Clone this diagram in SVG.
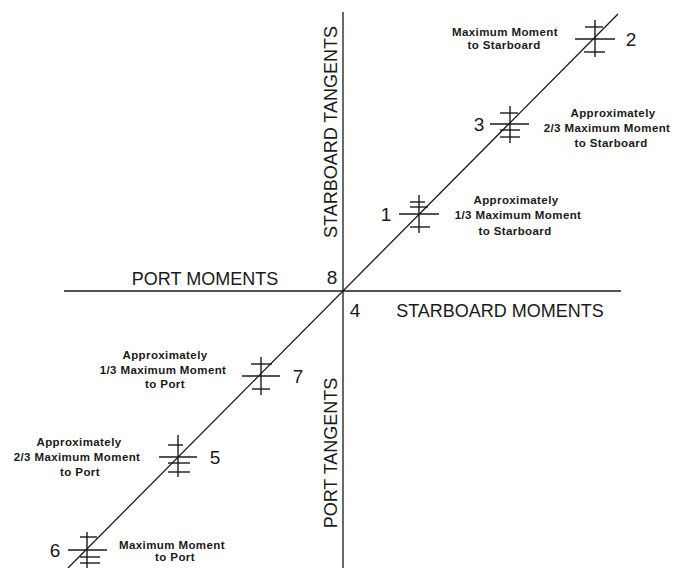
<svg xmlns="http://www.w3.org/2000/svg" width="676" height="568" viewBox="0 0 676 568">
<style>
.ln{stroke:#1a1a1a;stroke-width:1.3;fill:none}
.mk line{stroke:#1a1a1a;stroke-width:1.4}
.ax{font-family:"Liberation Sans",Arial,sans-serif;font-size:18px;fill:#1a1a1a}
.num{font-family:"Liberation Sans",Arial,sans-serif;font-size:19px;fill:#1a1a1a}
.lb{font-family:"Liberation Sans",Arial,sans-serif;font-size:11.5px;font-weight:bold;letter-spacing:0.4px;fill:#1a1a1a;text-anchor:middle}
</style>
<rect width="676" height="568" fill="#fff"/>
<g id="connectors">
<line class="ln" x1="343" y1="12" x2="343" y2="568"/>
<line class="ln" x1="64" y1="291" x2="621" y2="291"/>
<line class="ln" x1="68" y1="568" x2="618" y2="14"/>
</g>
<g id="axis-labels">
<text class="ax" x="205" y="285" text-anchor="middle">PORT MOMENTS</text>
<text class="ax" x="500" y="317" text-anchor="middle">STARBOARD MOMENTS</text>
<text class="ax" transform="translate(337,132) rotate(-90)" text-anchor="middle">STARBOARD TANGENTS</text>
<text class="ax" transform="translate(337,453) rotate(-90)" text-anchor="middle">PORT TANGENTS</text>
<text class="num" x="332" y="284" text-anchor="middle">8</text>
<text class="num" x="355" y="317" text-anchor="middle">4</text>
</g>
<g id="node2" class="mk">
<line x1="595" y1="20" x2="595" y2="57"/>
<line x1="585" y1="27" x2="603" y2="27"/>
<line x1="575" y1="39" x2="615" y2="39"/>
<line x1="584" y1="52" x2="605" y2="52"/>
<text class="num" x="631" y="46" text-anchor="middle">2</text>
<text class="lb" x="505" y="36">Maximum Moment</text>
<text class="lb" x="504" y="49">to Starboard</text>
</g>
<g id="node3" class="mk">
<line x1="510" y1="106" x2="510" y2="143"/>
<line x1="500" y1="113" x2="518" y2="113"/>
<line x1="490" y1="124" x2="529" y2="124"/>
<line x1="500" y1="130" x2="520" y2="130"/>
<line x1="500" y1="137" x2="520" y2="137"/>
<text class="num" x="479" y="131" text-anchor="middle">3</text>
<text class="lb" x="613" y="117">Approximately</text>
<text class="lb" x="607" y="132">2/3 Maximum Moment</text>
<text class="lb" x="611" y="147">to Starboard</text>
</g>
<g id="node1" class="mk">
<line x1="419" y1="195" x2="419" y2="233"/>
<line x1="410" y1="202" x2="425" y2="202"/>
<line x1="410" y1="207" x2="428" y2="207"/>
<line x1="399" y1="214" x2="439" y2="214"/>
<line x1="410" y1="227" x2="430" y2="227"/>
<text class="num" x="386" y="221" text-anchor="middle">1</text>
<text class="lb" x="516" y="204">Approximately</text>
<text class="lb" x="518" y="219">1/3 Maximum Moment</text>
<text class="lb" x="515" y="235">to Starboard</text>
</g>
<g id="node7" class="mk">
<line x1="261" y1="357" x2="261" y2="395"/>
<line x1="251" y1="364" x2="272" y2="364"/>
<line x1="242" y1="376" x2="280" y2="376"/>
<line x1="252" y1="389" x2="270" y2="389"/>
<text class="num" x="298" y="383" text-anchor="middle">7</text>
<text class="lb" x="165" y="359">Approximately</text>
<text class="lb" x="163" y="374">1/3 Maximum Moment</text>
<text class="lb" x="165" y="388">to Port</text>
</g>
<g id="node5" class="mk">
<line x1="178" y1="435" x2="178" y2="477"/>
<line x1="168" y1="445" x2="183" y2="445"/>
<line x1="159" y1="457" x2="197" y2="457"/>
<line x1="168" y1="463" x2="190" y2="463"/>
<line x1="168" y1="472" x2="190" y2="472"/>
<text class="num" x="215" y="464" text-anchor="middle">5</text>
<text class="lb" x="79" y="446">Approximately</text>
<text class="lb" x="77" y="461">2/3 Maximum Moment</text>
<text class="lb" x="80" y="476">to Port</text>
</g>
<g id="node6" class="mk">
<line x1="87" y1="532" x2="87" y2="568"/>
<line x1="80" y1="537" x2="97" y2="537"/>
<line x1="68" y1="550" x2="107" y2="550"/>
<line x1="80" y1="557" x2="100" y2="557"/>
<line x1="80" y1="563" x2="100" y2="563"/>
<text class="num" x="55" y="557" text-anchor="middle">6</text>
<text class="lb" x="172" y="549">Maximum Moment</text>
<text class="lb" x="175" y="561">to Port</text>
</g>
</svg>
